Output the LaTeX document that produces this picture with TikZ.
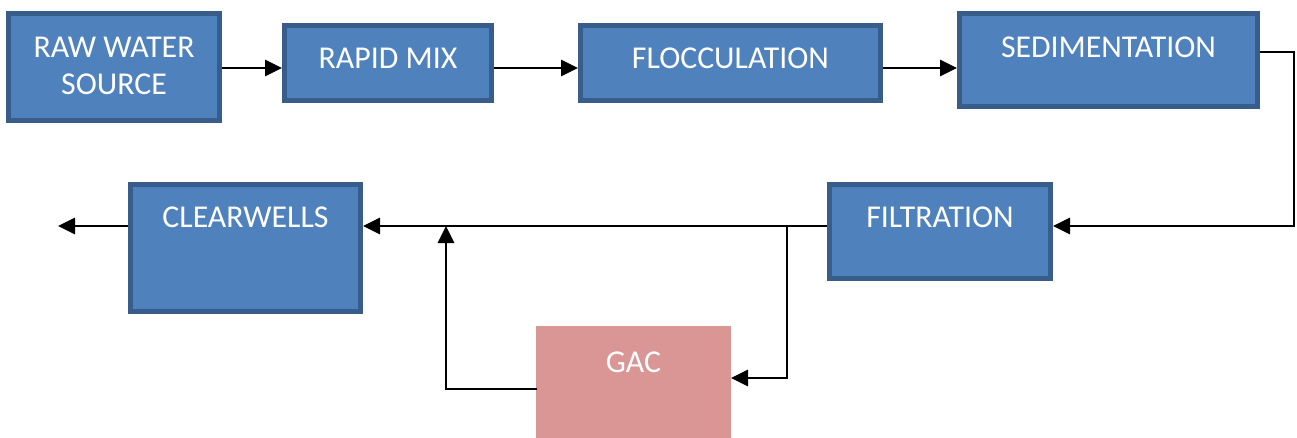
\documentclass[tikz,border=0pt]{standalone}
\usepackage{fontspec}
\setmainfont{Carlito}
\usetikzlibrary{arrows.meta}
\definecolor{boxfill}{HTML}{4F81BD}
\definecolor{boxline}{HTML}{385D8A}
\definecolor{gacfill}{HTML}{D99694}
\begin{document}
\begin{tikzpicture}[x=1pt,y=-1pt,
  box/.style={draw=boxline, fill=boxfill, line width=5pt, rectangle, inner sep=0pt},
  gacbox/.style={fill=gacfill, rectangle, inner sep=0pt},
  lbl/.style={text=white, font=\fontsize{31.8}{37}\selectfont, anchor=base, inner sep=0pt, align=center},
  conn/.style={line width=2.8pt, -{Triangle[length=17pt,width=16pt]}}]
\useasboundingbox (0,0) rectangle (1297,437);
% boxes
\node[box, minimum width=211pt, minimum height=107pt] (raw) at (114,67) {};
\node[box, minimum width=207pt, minimum height=75pt] (mix) at (388,63) {};
\node[box, minimum width=300pt, minimum height=75pt] (floc) at (730.5,63) {};
\node[box, minimum width=298pt, minimum height=93pt] (sed) at (1108.5,60) {};
\node[box, minimum width=221pt, minimum height=94pt] (filt) at (940,231.5) {};
\node[box, minimum width=230pt, minimum height=127pt] (clear) at (245.5,248) {};
\node[gacbox, minimum width=195pt, minimum height=112pt] (gac) at (633.5,382) {};
% labels
\node[lbl] (tRaw1) at (114,57) {RAW WATER};
\node[lbl] (tRaw2) at (114,94) {SOURCE};
\node[lbl] (tMix) at (388,68) {RAPID MIX};
\node[lbl] (tFloc) at (730.5,68) {FLOCCULATION};
\node[lbl] (tSed) at (1108.5,57) {SEDIMENTATION};
\node[lbl] (tFilt) at (940,227) {FILTRATION};
\node[lbl] (tClear) at (245.5,227) {CLEARWELLS};
\node[lbl] (tGac) at (633.5,372) {GAC};
% coordinates
\coordinate (sedR) at (1260,52);
\coordinate (c1) at (1294,52);
\coordinate (c2) at (1294,226);
\coordinate (filtR) at (1053,226);
\coordinate (filtL) at (827,226);
\coordinate (clearR) at (363,226);
\coordinate (clearL) at (128,226);
\coordinate (out) at (58,226);
\coordinate (br) at (787,226);
\coordinate (br2) at (787,378);
\coordinate (gacR) at (731,378);
\coordinate (gacL) at (537,389);
\coordinate (j1) at (446,389);
\coordinate (j2) at (446,226);
% connectors
\draw[conn] (raw.east |- 0,68) -- (mix.west |- 0,68);
\draw[conn] (mix.east |- 0,68) -- (floc.west |- 0,68);
\draw[conn] (floc.east |- 0,68) -- (sed.west |- 0,68);
\draw[conn] (sedR) -- (c1) -- (c2) -- (filtR);
\draw[conn] (filtL) -- (clearR);
\draw[conn] (clearL) -- (out);
\draw[conn] (br) -- (br2) -- (gacR);
\draw[conn] (gacL) -- (j1) -- (j2);
\end{tikzpicture}
\end{document}
